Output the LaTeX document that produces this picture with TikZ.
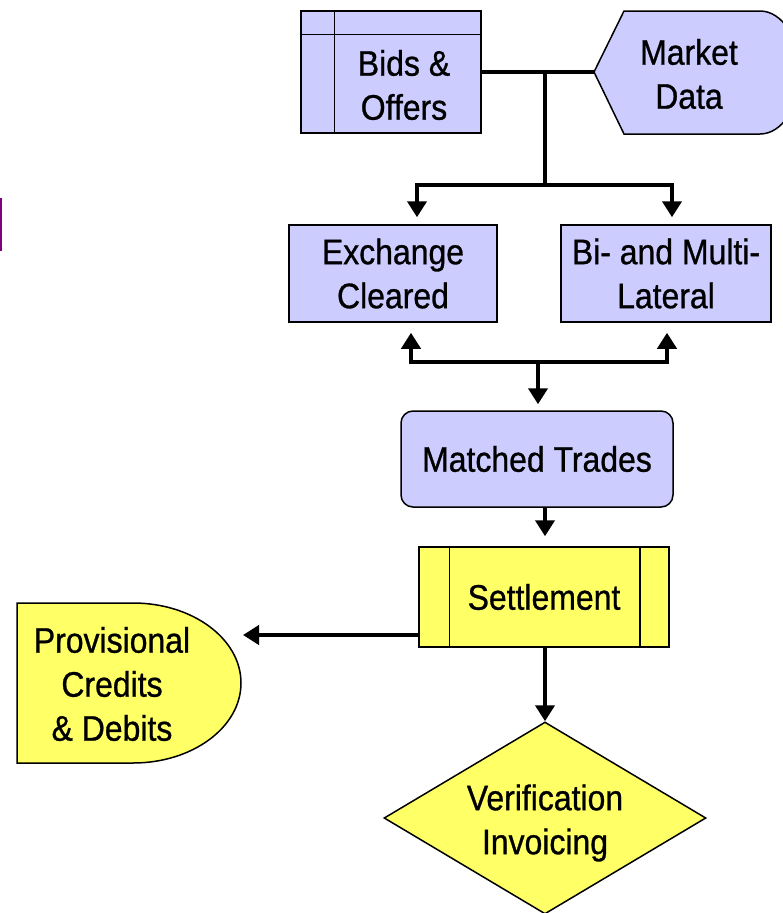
\documentclass[tikz,border=0pt]{standalone}
\usepackage{fontspec}
\setmainfont{Liberation Sans}[FakeStretch=0.9,FakeBold=0.8]
\usetikzlibrary{arrows.meta,shapes.geometric,calc}
\definecolor{lav}{HTML}{CCCCFF}
\definecolor{lemon}{HTML}{FFFF66}
\definecolor{plum}{HTML}{800080}
\newcommand\lblfont{\fontsize{35.5}{44}\selectfont}

\begin{document}
\begin{tikzpicture}[x=1pt,y=-1pt,
  box/.style={draw=black,line width=1.5pt,inner sep=0pt},
  lbl/.style={font=\lblfont,align=center,inner sep=0pt},
  wire/.style={line width=4pt},
  flow/.style={line width=4pt,-{Triangle[length=16pt,width=19pt]}},
  divider/.style={line width=1.5pt},
]
\useasboundingbox (0,0) rectangle (782,913);

% stray rule at the left margin
\draw[plum,line width=2pt] (1,198) -- (1,251);

% --- inputs ---------------------------------------------------------
\node[box,fill=lav,minimum width=180pt,minimum height=122pt] (bids) at (391,72) {};
\draw[divider] ($(bids.north west)+(34,0)$) -- ($(bids.south west)+(34,0)$);
\draw[divider] ($(bids.north west)+(0,24)$) -- ($(bids.north east)+(0,24)$);
\node[lbl] (bidstxt) at (404,85) {Bids \&\\Offers};

\draw[box,fill=lav] (594,72) -- (624,11) -- (760,11)
  arc[start angle=-90,end angle=90,x radius=40,y radius=61.5] -- (624,134) -- cycle;
\coordinate (mktin) at (594,72);
\node[lbl] (mkt) at (689,74) {Market\\Data};

% --- trade venues ---------------------------------------------------
\node[box,lbl,fill=lav,minimum width=208pt,minimum height=97pt] (exch) at (393,273.5) {Exchange\\Cleared};
\node[box,lbl,fill=lav,minimum width=210pt,minimum height=97pt] (bilat) at (666,273.5) {Bi- and Multi-\\Lateral};

% --- processing -----------------------------------------------------
\node[box,lbl,fill=lav,rounded corners=12pt,minimum width=272pt,minimum height=96pt] (match) at (537,459) {Matched Trades};

\node[box,lbl,fill=lemon,minimum width=250pt,minimum height=100pt] (settle) at (544,597) {Settlement};
\draw[divider] ($(settle.north west)+(31,0)$) -- ($(settle.south west)+(31,0)$);
\draw[divider] ($(settle.north east)+(-30,0)$) -- ($(settle.south east)+(-30,0)$);

\draw[box,fill=lemon] (17,603) -- (133,603)
  arc[start angle=-90,end angle=90,x radius=108,y radius=80] -- (17,763) -- cycle;
\coordinate (provin) at (243,635);
\node[lbl] (prov) at (112,684) {Provisional\\Credits\\\& Debits};

\node[box,diamond,fill=lemon,minimum width=322pt,minimum height=192pt] (diam) at (545,818) {};
\node[lbl] (diamtxt) at (545,823) {Verification\\Invoicing};

% --- connectors -----------------------------------------------------
\coordinate (j1) at (545,72);
\coordinate (j2) at (545,185);
\coordinate (j3) at (538,362);

\draw[wire] (bids.east) -- (mktin);
\draw[wire] (j1) -- (j2);
\draw[flow] (j2) -| ($(exch.north)+(24,-7)$);
\draw[flow] (j2) -| ($(bilat.north)+(6,-7)$);

\draw[flow] (j3) -| ($(exch.south)+(18,10)$);
\draw[flow] (j3) -| ($(bilat.south)+(1,10)$);
\draw[flow] (j3) -- ($(match.north)+(1,-6)$);

\draw[flow] ($(match.south)+(8,0)$) -- ($(settle.north)+(1,-10)$);
\draw[flow] ($(settle.west)+(0,38)$) -- (provin);
\draw[flow] ($(settle.south)+(1,0)$) -- (diam.north);
\end{tikzpicture}
\end{document}
